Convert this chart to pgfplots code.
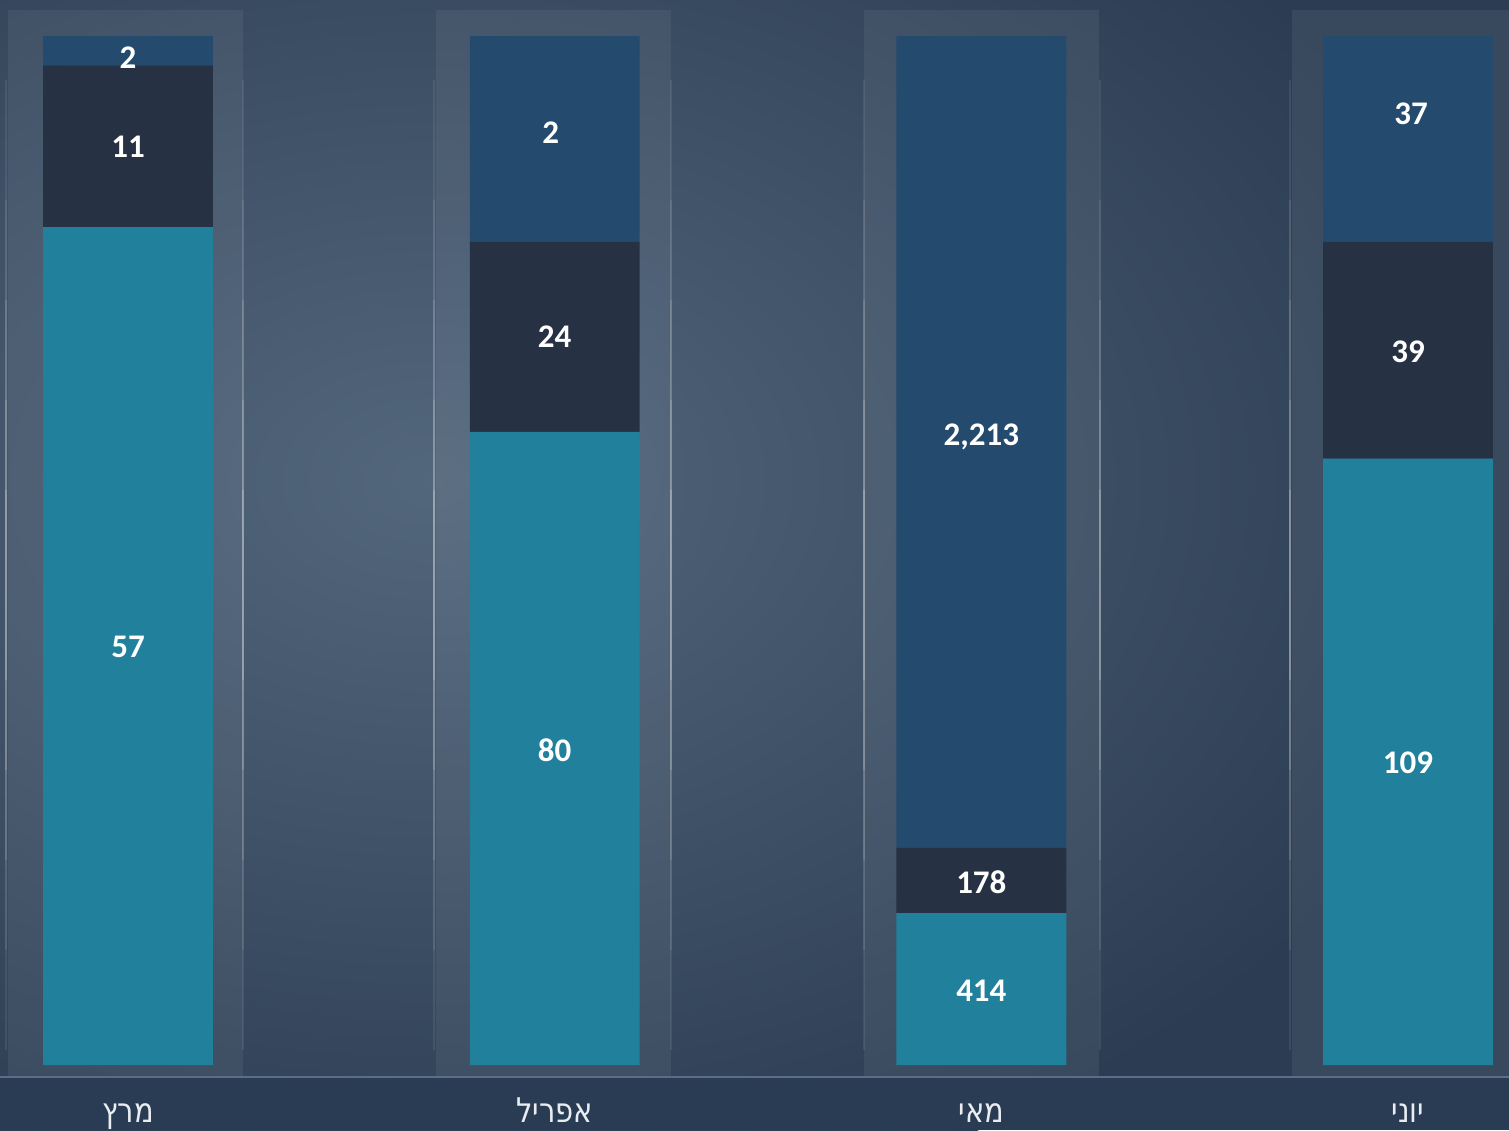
\documentclass[border=0pt]{standalone}
\usepackage{fontspec}
\setmainfont{Carlito}
\newfontfamily\hebfont[FakeStretch=0.85]{DejaVu Sans}
\TeXXeTstate=1
\usepackage{pgfplots}
\pgfplotsset{compat=1.18}
\usepackage{pgfplotstable}

\definecolor{cteal}{HTML}{21809B}
\definecolor{cdark}{HTML}{263143}
\definecolor{ctop}{HTML}{244A6E}
\definecolor{bgL}{HTML}{52667C}
\definecolor{bgD}{HTML}{2C3D53}
\definecolor{bandC}{HTML}{2A3C53}
\definecolor{lineC}{HTML}{5A6E85}
\definecolor{labC}{HTML}{E9EDF1}

% share of each month (percent); counts: 57/11/2, 80/24/26, 414/178/2213, 109/39/37
\pgfplotstableread{
x teal dark top
0 81.43 15.71 2.86
1 61.54 18.46 20.00
2 14.76 6.35 78.89
3 58.92 21.08 20.00
}\shares

\pgfplotstableread{
x y label
0 97.86 2
0 89.21 11
0 40.62 57
0.991 90.57 2
1 70.75 24
1 30.61 80
2 61.03 2,213
2 17.78 178
2 7.19 414
3.007 92.42 37
3 69.29 39
3 29.35 109
}\labels

% month names (Hebrew): March, April, May, June
\def\mMar{^^^^05de^^^^05e8^^^^05e5}
\def\mApr{^^^^05d0^^^^05e4^^^^05e8^^^^05d9^^^^05dc}
\def\mMay{^^^^05de^^^^05d0^^^^05d9}
\def\mJun{^^^^05d9^^^^05d5^^^^05e0^^^^05d9}

\pgfplotsset{base/.style={
    scale only axis, width=754.5pt, height=565pt,
    at={(0,0)}, anchor=south west,
    xmin=-0.3, xmax=3.2367, ymin=-6.317, ymax=103.5,
    axis line style={draw=none}, tick style={draw=none},
    major tick length=0pt, ytick=\empty,
}}

\begin{document}
\begin{tikzpicture}
% background
\begin{scope}[x=0.5pt, y=-0.5pt, yshift=565pt]
  \clip (0,0) rectangle (1509,1130);
  \fill[bgD] (0,0) rectangle (1509,1130);
  \shade[inner color=bgL, outer color=bgD] (430,480) ellipse (1100 and 750);
  \foreach \cx in {8,436,864,1292}{
    \fill[white, opacity=0.06] (\cx,10) rectangle ++(235,1067);
  }
  \foreach \gx in {6,243,434,671,864,1100,1290}{
    \draw[white, opacity=0.08, line width=1pt] (\gx,80) -- (\gx,1050);
    \draw[white, opacity=0.08, line width=1pt] (\gx,200) -- (\gx,950);
    \draw[white, opacity=0.10, line width=1pt] (\gx,300) -- (\gx,860);
    \draw[white, opacity=0.12, line width=0.8pt] (\gx,400) -- (\gx,770);
    \draw[white, opacity=0.14, line width=0.6pt] (\gx,490) -- (\gx,680);
  }
  \fill[bandC] (0,1077) rectangle (1509,1130);
  \draw[lineC, line width=1pt] (0,1077) -- (1509,1077);
\end{scope}

\begin{axis}[base, ybar stacked, bar width=0.398,
    xtick={0,1,2,3},
    xticklabels={{\beginR\mMar\endR},{\beginR\mApr\endR},{\beginR\mMay\endR},{\beginR\mJun\endR}},
    xticklabel style={font=\hebfont\fontsize{17}{20}\selectfont, text=labC, anchor=base, yshift=4pt},
]
\addplot[fill=cteal, draw=none] table[x=x, y=teal] {\shares};
\addplot[fill=cdark, draw=none] table[x=x, y=dark] {\shares};
\addplot[fill=ctop, draw=none] table[x=x, y=top] {\shares};
\end{axis}

\begin{axis}[base, xtick=\empty]
\addplot[only marks, mark=none, nodes near coords, point meta=explicit symbolic,
    nodes near coords style={anchor=center, text=white, font=\fontsize{16.5}{18}\selectfont\bfseries}]
    table[x=x, y=y, meta=label] {\labels};
\end{axis}

\pgfresetboundingbox
\path[use as bounding box] (0,0) rectangle (754.5pt,565pt);
\end{tikzpicture}
\end{document}
